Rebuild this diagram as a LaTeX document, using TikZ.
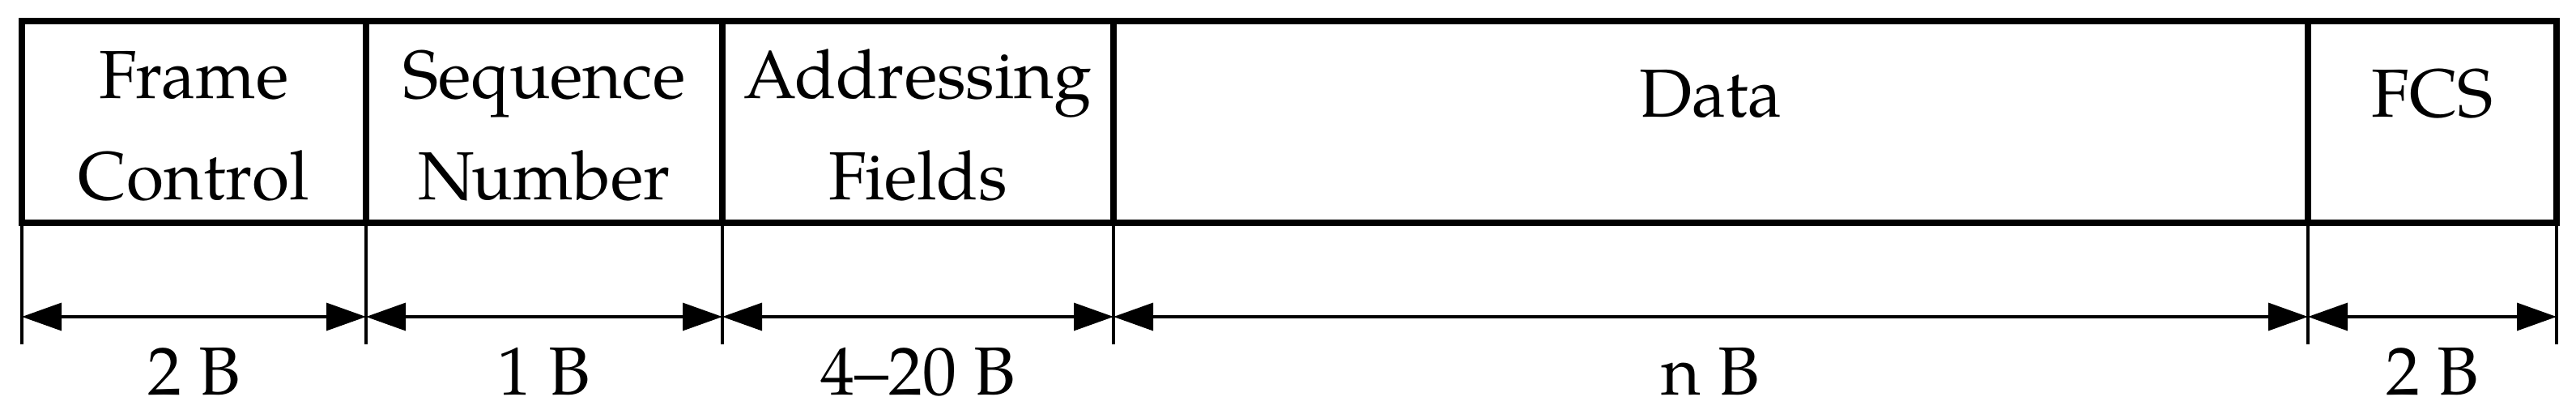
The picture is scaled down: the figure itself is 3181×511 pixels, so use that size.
\documentclass[tikz,border=0pt]{standalone}
\usepackage{fontspec}
\setmainfont{TeX Gyre Pagella}
\usetikzlibrary{arrows.meta}
\begin{document}
\begin{tikzpicture}[x=0.25pt,y=-0.25pt,
  thickline/.style={line width=2pt},
  thinline/.style={line width=0.85pt},
  txt/.style={inner sep=0pt, anchor=base, align=center, font=\fontsize{21pt}{31.25pt}\selectfont},
  dimarrow/.style={thinline, {Triangle[length=12.25pt,width=8.5pt]}-{Triangle[length=12.25pt,width=8.5pt]}}]
\useasboundingbox (0,0) rectangle (3181,511);
% frame corners and divider positions
\foreach \i/\x in {0/27,1/452,2/892,3/1375,4/2850,5/3157}{
  \coordinate (t\i) at (\x,26);
  \coordinate (b\i) at (\x,275);
  \coordinate (a\i) at (\x,391);
  \coordinate (e\i) at (\x,425);
}
% frame
\draw[thickline] (t0) rectangle (b5);
\foreach \i in {1,2,3,4}{\draw[thickline] (t\i) -- (b\i);}
% field texts (base anchor = baseline of the last line)
\node[txt] (fc)   at (239.5,247) {Frame\\Control};
\node[txt] (sn)   at (672,247)   {Sequence\\Number};
\node[txt] (af)   at (1133.5,247){Addressing\\Fields};
\node[txt] (data) at (2112.5,145){Data};
\node[txt] (fcs)  at (3003.5,145){FCS};
% extension lines
\foreach \i in {0,...,5}{\draw[thinline] (b\i) -- (e\i);}
% dimension arrows
\draw[dimarrow] (a0) -- (a1);
\draw[dimarrow] (a1) -- (a2);
\draw[dimarrow] (a2) -- (a3);
\draw[dimarrow] (a3) -- (a4);
\draw[dimarrow] (a4) -- (a5);
% size labels
\node[txt] (l0) at (239.5,488)  {2 B};
\node[txt] (l1) at (672,488)    {1 B};
\node[txt] (l2) at (1133.5,488) {4–20 B};
\node[txt] (l3) at (2112.5,488) {n B};
\node[txt] (l4) at (3003.5,488) {2 B};
\end{tikzpicture}
\end{document}
